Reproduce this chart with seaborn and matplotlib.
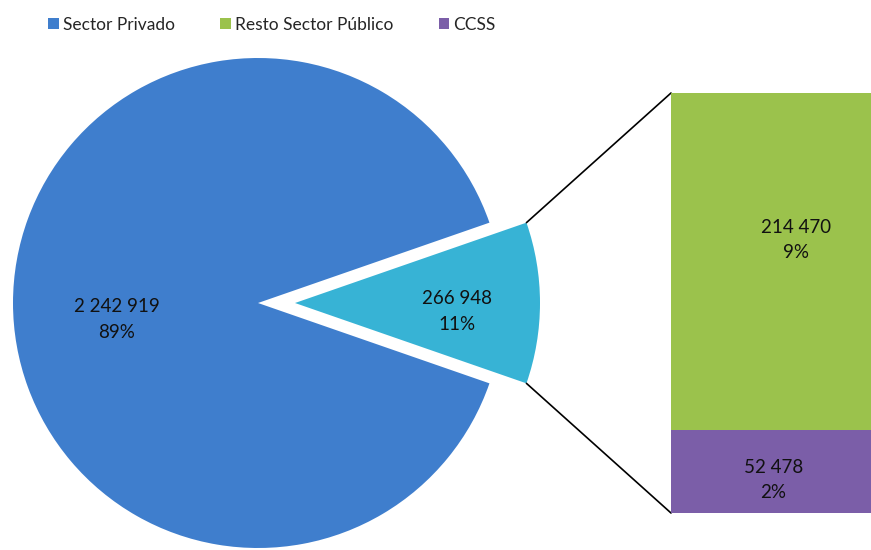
import matplotlib
matplotlib.use("Agg")
import matplotlib.pyplot as plt
import seaborn as sns
import pandas as pd
import numpy as np
from matplotlib.patches import Patch

sns.set_theme(style="white")
plt.rcParams['font.family'] = ['Lato', 'DejaVu Sans']

# ---- data ----
pie_labels = ["Resto + CCSS", "Sector Privado"]
pie_values = [266948, 2242919]
pie_pct = ["11%", "89%"]
bar_labels = ["Resto Sector Público", "CCSS"]
bar_values = [214470, 52478]
bar_pct = ["9%", "2%"]
legend_labels = ["Sector Privado", "Resto Sector Público", "CCSS"]

c_blue = "#3F7ECD"
c_cyan = "#37B3D5"
c_green = "#9BC24C"
c_purple = "#7B5EA8"

def fmt(v):
    return f"{v:,}".replace(",", " ")

W, H = 871, 550
fig = plt.figure(figsize=(W / 100, H / 100), dpi=100)
ax = fig.add_axes([0, 0, 1, 1])

# ---- pie ----
cx, cy, R = 258, 247, 245
expl = 37
total = sum(pie_values)
half = 0.5 * 360 * pie_values[0] / total
wedges, _ = ax.pie(pie_values, colors=[c_cyan, c_blue], startangle=-half,
                   explode=[expl, 0], center=(cx, cy), radius=R,
                   wedgeprops=dict(edgecolor="none"), frame=True)
ax.set_xlim(0, W)
ax.set_ylim(0, H)
ax.set_aspect("equal")
ax.axis("off")

lab_fs = 13.5
ax.text(117, H - 307, fmt(pie_values[1]), ha="center", va="center", fontsize=lab_fs, color="#111111")
ax.text(117, H - 333, pie_pct[1], ha="center", va="center", fontsize=lab_fs, color="#111111")
ax.text(457, H - 299, fmt(pie_values[0]), ha="center", va="center", fontsize=lab_fs, color="#111111")
ax.text(457, H - 325, pie_pct[0], ha="center", va="center", fontsize=lab_fs, color="#111111")

# ---- bar (seaborn) ----
bx0, btop, bbot = 671, 93, 513
bax = fig.add_axes([bx0 / W, (H - bbot) / H, (W - bx0) / W, (bbot - btop) / H])
bar_total = sum(bar_values)
df_tot = pd.DataFrame({"g": ["x"], "v": [bar_total]})
df_bot = pd.DataFrame({"g": ["x"], "v": [bar_values[1]]})
sns.barplot(data=df_tot, x="g", y="v", color=c_green, saturation=1, width=1.0,
            edgecolor="none", ax=bax)
sns.barplot(data=df_bot, x="g", y="v", color=c_purple, saturation=1, width=1.0,
            edgecolor="none", ax=bax)
bax.set_xlim(-0.5, 0.3)
bax.set_ylim(0, bar_total)
bax.axis("off")
green_mid = bar_values[1] + bar_values[0] * 0.565
bax.text(0.0, green_mid, fmt(bar_values[0]) + "\n" + bar_pct[0], ha="center", va="center",
         fontsize=lab_fs, color="#111111", linespacing=1.6)
bax.text(-0.09, bar_values[1] * 0.4, fmt(bar_values[1]) + "\n" + bar_pct[1], ha="center",
         va="center", fontsize=lab_fs, color="#111111", linespacing=1.6)

# ---- connector lines ----
th = np.deg2rad(half)
ex = cx + expl + R * np.cos(th)
ax.plot([ex, bx0], [cy + R * np.sin(th), H - btop], color="black", lw=1.2)
ax.plot([ex, bx0], [cy - R * np.sin(th), H - bbot], color="black", lw=1.2)

# ---- legend ----
handles = [Patch(facecolor=c, edgecolor="none") for c in [c_blue, c_green, c_purple]]
leg = fig.legend(handles, legend_labels, loc="center", bbox_to_anchor=(272 / W, 1 - 25 / H),
                 ncol=3, frameon=False, prop=dict(size=12.5),
                 handlelength=0.6, handleheight=0.6, handletextpad=0.25, columnspacing=2.6)

fig.savefig("out.png", dpi=100)
